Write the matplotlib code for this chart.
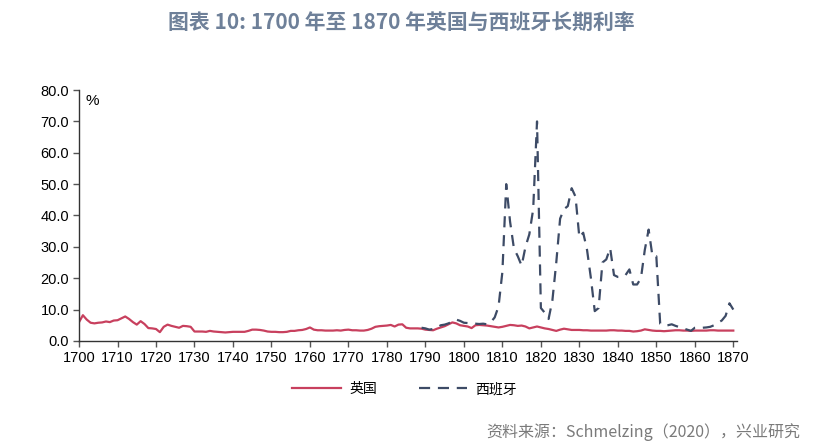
import numpy as np
import matplotlib
matplotlib.use("Agg")
import matplotlib.pyplot as plt

plt.rcParams['font.family'] = ['Noto Sans CJK SC', 'DejaVu Sans']

# 英国 long-term rates, annual 1700-1870
uk_years = list(range(1700, 1871))
uk_rates = [
    6.0, 8.2, 6.8, 5.8, 5.6, 5.8, 5.9, 6.2, 6.0, 6.5,   # 1700s
    6.6, 7.2, 7.8, 7.0, 6.0, 5.2, 6.3, 5.4, 4.1, 4.0,   # 1710s
    3.8, 2.8, 4.5, 5.2, 4.8, 4.5, 4.2, 4.8, 4.7, 4.5,   # 1720s
    3.0, 3.0, 3.0, 2.9, 3.2, 3.0, 2.9, 2.8, 2.7, 2.8,   # 1730s
    2.9, 2.9, 2.9, 2.9, 3.2, 3.6, 3.6, 3.5, 3.3, 3.0,   # 1740s
    2.9, 2.9, 2.8, 2.8, 2.9, 3.2, 3.2, 3.4, 3.5, 3.8,   # 1750s
    4.3, 3.6, 3.4, 3.4, 3.3, 3.3, 3.3, 3.4, 3.3, 3.5,   # 1760s
    3.6, 3.4, 3.4, 3.3, 3.3, 3.5, 3.9, 4.5, 4.7, 4.8,   # 1770s
    4.9, 5.1, 4.6, 5.2, 5.3, 4.2, 4.0, 4.0, 4.0, 3.9,   # 1780s
    3.6, 3.5, 3.4, 3.9, 4.3, 4.7, 5.3, 5.9, 5.6, 5.0,   # 1790s
    4.8, 4.6, 4.1, 5.0, 5.1, 5.0, 4.9, 4.7, 4.5, 4.3,   # 1800s
    4.5, 4.8, 5.1, 5.0, 4.8, 4.9, 4.6, 4.0, 4.3, 4.6,   # 1810s
    4.3, 4.0, 3.8, 3.5, 3.2, 3.6, 3.9, 3.7, 3.5, 3.5,   # 1820s
    3.5, 3.4, 3.4, 3.3, 3.3, 3.3, 3.3, 3.3, 3.4, 3.4,   # 1830s
    3.3, 3.3, 3.2, 3.2, 3.0, 3.1, 3.3, 3.7, 3.5, 3.3,   # 1840s
    3.2, 3.2, 3.1, 3.2, 3.3, 3.4, 3.4, 3.3, 3.3, 3.2,   # 1850s
    3.3, 3.3, 3.3, 3.3, 3.4, 3.4, 3.3, 3.3, 3.3, 3.3,   # 1860s
    3.3,                                                 # 1870
]

# 西班牙 long-term rates, annual 1789-1870
es_years = list(range(1789, 1871))
es_rates = [
    4.2,                                                 # 1789
    4.0, 3.6, 3.8, 4.3, 5.0, 5.2, 5.6, 6.2, 6.8, 6.4,   # 1790s
    5.8, 5.7, 5.5, 5.5, 5.4, 5.5, 5.3, 6.0, 7.5, 11.0,  # 1800s
    22.0, 50.0, 38.0, 29.5, 27.0, 24.0, 30.0, 34.0, 42.0, 70.0,  # 1810s
    10.5, 9.0, 7.0, 13.0, 25.0, 39.0, 42.0, 43.0, 48.7, 46.0,    # 1820s
    33.0, 34.5, 29.0, 20.0, 9.5, 10.5, 25.0, 26.0, 29.6, 21.0,   # 1830s
    20.4, 20.4, 21.0, 22.8, 18.0, 18.0, 20.0, 29.0, 35.5, 27.0,  # 1840s
    27.0, 5.5, 4.8, 5.0, 5.3, 4.8, 4.4, 4.0, 3.6, 3.2,   # 1850s
    4.2, 4.3, 4.2, 4.3, 4.5, 5.0, 5.8, 6.5, 8.0, 12.0,   # 1860s
    10.0,                                                # 1870
]

x_ticks = list(range(1700, 1871, 10))
y_ticks = list(range(0, 81, 10))

uk_color = '#C8405E'
es_color = '#3D4B66'
title_color = '#6E8099'

fig = plt.figure(figsize=(8.32, 4.48), dpi=100)
ax = fig.add_axes([0.095, 0.239, 0.791, 0.560])

ax.plot(uk_years, uk_rates, color=uk_color, lw=1.6, label='英国')
ax.plot(es_years, es_rates, color=es_color, lw=1.6, dashes=(5, 3.5), label='西班牙')

ax.set_xlim(1700, 1871)
ax.set_ylim(0, 80)
ax.set_xticks(x_ticks)
ax.set_yticks(y_ticks)
ax.set_yticklabels([f'{v:.1f}' for v in y_ticks])
ax.tick_params(axis='both', direction='out', length=4, width=1, color='#555555',
               labelsize=10.5, pad=3)
for lab in ax.get_xticklabels() + ax.get_yticklabels():
    lab.set_fontfamily(['Liberation Sans', 'DejaVu Sans'])

for side in ['top', 'right']:
    ax.spines[side].set_visible(False)
for side in ['left', 'bottom']:
    ax.spines[side].set_color('#333333')
    ax.spines[side].set_linewidth(1)

ax.text(0.01, 0.985, '%', transform=ax.transAxes, ha='left', va='top',
        fontsize=11, family=['Liberation Sans', 'DejaVu Sans'])

fig.text(0.482, 0.951, '图表 10: 1700 年至 1870 年英国与西班牙长期利率',
         ha='center', va='center', fontsize=15, fontweight='bold', color=title_color)

leg = ax.legend(loc='upper center', bbox_to_anchor=(0.495, -0.115), ncol=2,
                frameon=False, fontsize=10, handlelength=3.5, columnspacing=3.0,
                handletextpad=0.6)

fig.text(0.585, 0.035, '资料来源：Schmelzing（2020），兴业研究',
         ha='left', va='center', fontsize=11.5, color='#7a7a7a')

fig.savefig('out.png', dpi=100)
